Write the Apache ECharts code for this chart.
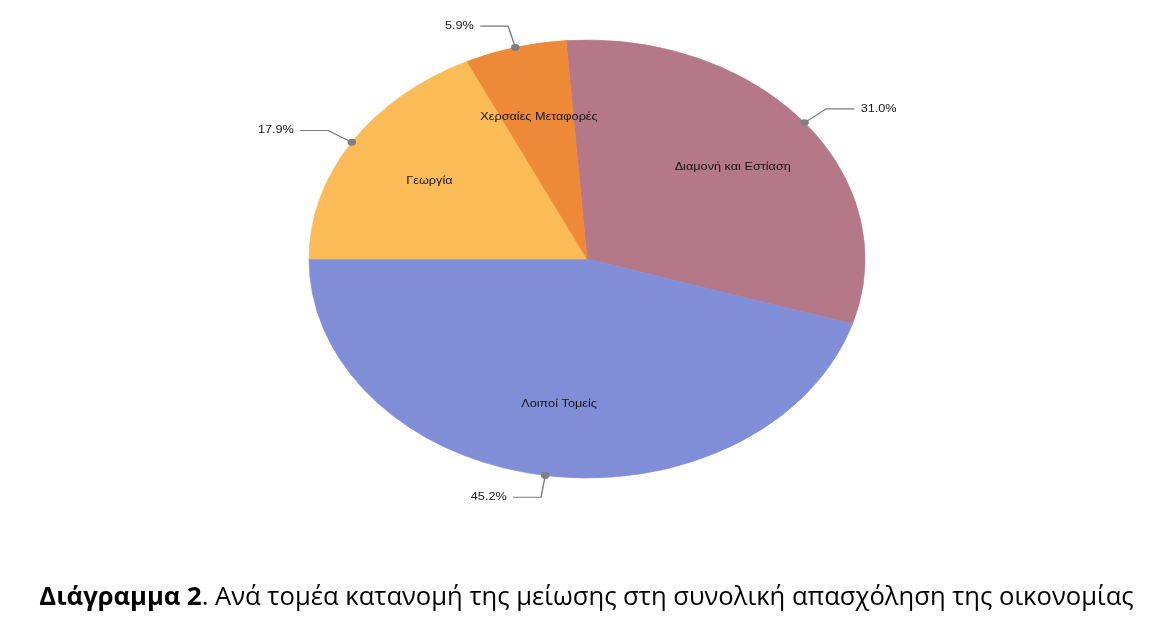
<!DOCTYPE html>
<html><head><meta charset="utf-8">
<script src="https://cdn.jsdelivr.net/npm/echarts@6/dist/echarts.min.js"></script>
<style>html,body{margin:0;padding:0;background:#fff}#c{width:1173px;height:628px}</style>
</head><body><div id="c"></div>
<script>
// ---- data ----
const categories = ['Διαμονή και Εστίαση', 'Λοιποί Τομείς', 'Γεωργία', 'Χερσαίες Μεταφορές'];
const values = [31.0, 45.2, 17.9, 5.9];
const colors = ['#B47889', '#808ED7', '#FBBB57', '#EE8A37'];
const titleBold = 'Διάγραμμα 2';
const titleRest = '. Ανά τομέα κατανομή της μείωσης στη συνολική απασχόληση της οικονομίας';

// ---- layout ----
const CX = 587, CY = 259, R = 219, SX = 278 / 219, START_DEG = -4.32;
const L1 = 22, L2 = 22, GAP = 5, INNER = 0.67;
const LABEL_FONT = '"Liberation Sans", Arial, sans-serif';
const TITLE_FONT = '"Open Sans", "Noto Sans", sans-serif';
const TITLE_WIDTH = 1093;

const total = values.reduce((a, b) => a + b, 0);
const starts = []; let acc = 0; values.forEach(v => { starts.push(acc); acc += v; });
function angles(i) { const a0 = START_DEG + starts[i] / total * 360; return [a0, a0 + values[i] / total * 360]; }
const rad = d => d * Math.PI / 180;

// fit title width
const ctx = document.createElement('canvas').getContext('2d');
ctx.font = 'bold 100px ' + TITLE_FONT; const wb = ctx.measureText(titleBold).width;
ctx.font = '100px ' + TITLE_FONT; const wr = ctx.measureText(titleRest).width;
const titleSize = Math.round(100 * TITLE_WIDTH / (wb + wr) * 10) / 10;

function sectorItem(params) {
  const i = params.dataIndex; const [a0, a1] = angles(i);
  return {
    type: 'sector', x: CX, y: CY, scaleX: SX, scaleY: 1,
    shape: { cx: 0, cy: 0, r: R, r0: 0, startAngle: rad(a0 - 90), endAngle: rad(a1 - 90), clockwise: true },
    style: { fill: colors[i], stroke: colors[i], lineWidth: 0.6 }
  };
}
function labelItem(params) {
  const i = params.dataIndex; const [a0, a1] = angles(i); const m = rad((a0 + a1) / 2);
  const ux = Math.sin(m), uy = -Math.cos(m);
  const side = ux >= 0 ? 1 : -1;
  const p0 = [R * ux, R * uy], p1 = [(R + L1) * ux, (R + L1) * uy], p2 = [p1[0] + side * L2, p1[1]];
  return {
    type: 'group', x: CX, y: CY, scaleX: SX, scaleY: 1, children: [
      { type: 'text', x: INNER * R * ux, y: INNER * R * uy,
        style: { text: categories[i], fill: '#151515', fontSize: 10, fontFamily: LABEL_FONT, align: 'center', verticalAlign: 'middle' } },
      { type: 'polyline', shape: { points: [p0, p1, p2] }, style: { stroke: '#7a7a7a', lineWidth: 1.1, fill: null } },
      { type: 'circle', shape: { cx: p0[0], cy: p0[1], r: 3.4 }, style: { fill: '#7f7f7f' } },
      { type: 'text', x: p2[0] + side * GAP, y: p2[1],
        style: { text: values[i].toFixed(1) + '%', fill: '#151515', fontSize: 10, fontFamily: LABEL_FONT, align: side > 0 ? 'left' : 'right', verticalAlign: 'middle' } }
    ]
  };
}

const chart = echarts.init(document.getElementById('c'), null, { renderer: 'canvas' });
chart.setOption({
  animation: false,
  backgroundColor: '#ffffff',
  title: {
    text: '{b|' + titleBold + '}{n|' + titleRest + '}',
    left: 'center', top: 577,
    textStyle: {
      rich: {
        b: { fontFamily: TITLE_FONT, fontWeight: 'bold', fontSize: titleSize, color: '#000', lineHeight: 32 },
        n: { fontFamily: TITLE_FONT, fontWeight: 'normal', fontSize: titleSize, color: '#000', lineHeight: 32 }
      }
    }
  },
  series: [
    { type: 'custom', coordinateSystem: 'none', silent: true, data: values.map((v, i) => [i, v]), renderItem: sectorItem },
    { type: 'custom', coordinateSystem: 'none', silent: true, z: 3, data: values.map((v, i) => [i, v]), renderItem: labelItem }
  ]
});
</script></body></html>
